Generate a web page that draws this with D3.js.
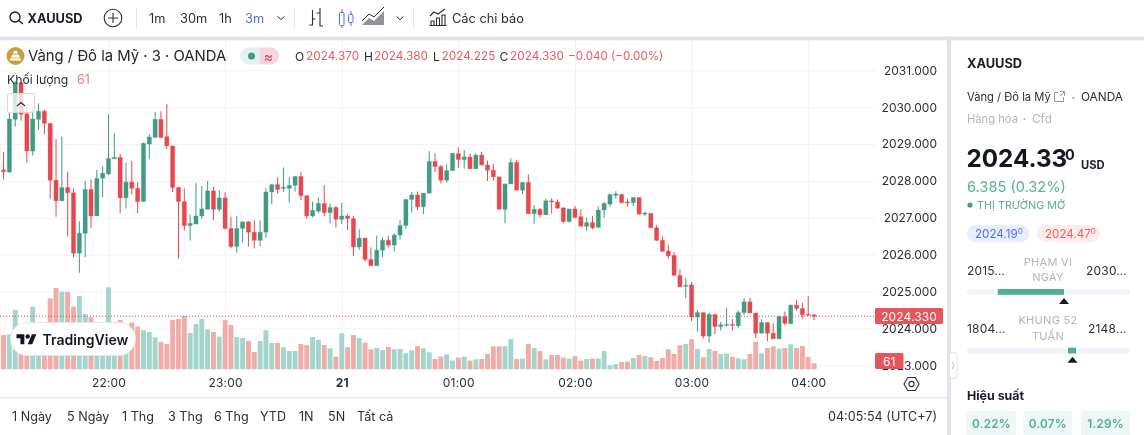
<!DOCTYPE html>
<html><head><meta charset="utf-8">
<script src="https://cdn.jsdelivr.net/npm/d3@7/dist/d3.min.js"></script>
<style>
html,body{margin:0;padding:0;background:#fff;overflow:hidden}
svg{display:block;filter:blur(.35px)}
text{font-family:Inter,"Noto Sans",sans-serif;fill:#2a2e39}
</style></head><body><div id="chart"></div>
<script>
// ---- data -------------------------------------------------------------
// bars are numbered from 22:00 = 0, one bar every 3 minutes
const firstBar = -19;
const opens = [2029.00,2028.30,2028.24,2029.67,2030.66,2029.82,2028.81,2029.67,2029.89,2029.56,2028.02,2027.46,2027.82,2027.68,2026.04,2026.58,2027.77,2027.05,2028.07,
2028.19,2028.60,2028.64,2027.54,2027.97,2027.80,2027.44,2029.00,2029.18,2029.67,2029.20,2028.95,2027.82,2027.44,2026.79,2026.83,2027.05,2027.23,2027.73,2027.23,
2027.54,2026.71,2026.22,2026.71,2026.89,2026.61,2026.39,2026.61,2027.70,2027.90,2027.80,2027.80,2027.88,2028.12,2027.60,2027.05,2027.18,2027.39,2027.14,2027.28,
2026.96,2027.05,2026.98,2026.21,2026.45,2025.87,2025.70,2026.12,2026.39,2026.26,2026.53,2026.79,2027.50,2027.62,2027.30,2027.67,2028.53,2028.39,2028.02,2028.28,
2028.74,2028.58,2028.65,2028.33,2028.70,2028.43,2028.29,2028.11,2027.23,2027.92,2028.50,2027.75,2027.96,2027.11,2027.23,2027.08,2027.46,2027.43,2027.27,2026.90,
2027.24,2027.03,2026.77,2026.87,2026.74,2027.21,2027.37,2027.61,2027.63,2027.43,2027.41,2027.55,2027.10,2027.12,2026.73,2026.39,2026.10,2025.98,2025.44,2025.14,
2025.18,2024.31,2024.43,2023.79,2024.38,2024.05,2024.09,2024.11,2024.07,2024.43,2024.72,2024.42,2023.87,2024.16,2023.87,2023.72,2024.32,2024.13,2024.63,2024.54,2024.38,2024.37];
const highs = [2029.26,2028.78,2029.85,2030.71,2030.69,2030.06,2030.01,2030.10,2029.94,2029.56,2029.13,2029.20,2028.25,2027.79,2026.91,2028.00,2028.04,2028.30,2028.40,
2029.81,2029.29,2028.73,2028.50,2028.54,2027.96,2029.04,2029.27,2029.87,2029.89,2030.09,2028.95,2027.84,2027.80,2027.09,2027.95,2027.86,2028.00,2027.84,2027.75,
2027.69,2027.03,2027.05,2026.91,2026.91,2026.94,2026.94,2027.80,2027.92,2028.10,2028.37,2028.10,2028.13,2028.25,2027.60,2027.44,2027.55,2027.89,2027.39,2027.32,
2027.41,2027.09,2027.05,2026.69,2026.45,2026.20,2026.52,2026.47,2026.51,2026.58,2026.94,2027.50,2027.70,2027.71,2027.67,2028.81,2028.75,2028.43,2028.45,2028.75,
2028.91,2028.84,2028.75,2028.75,2028.79,2028.55,2028.46,2028.11,2027.92,2028.61,2028.57,2027.96,2028.18,2027.34,2027.26,2027.53,2027.53,2027.50,2027.28,2027.24,
2027.32,2027.23,2027.01,2027.05,2027.30,2027.43,2027.66,2027.72,2027.66,2027.52,2027.55,2027.55,2027.17,2027.12,2026.80,2026.49,2026.28,2026.07,2025.60,2025.37,
2025.26,2024.50,2024.43,2024.43,2024.38,2024.18,2024.55,2024.25,2024.48,2024.82,2024.83,2024.42,2024.25,2024.16,2024.14,2024.34,2024.46,2024.65,2024.77,2024.70,2024.88,2024.38];
const lows = [2028.30,2028.04,2028.22,2029.47,2029.63,2028.50,2028.69,2029.38,2029.26,2027.51,2027.03,2027.46,2026.49,2025.93,2025.51,2025.93,2026.73,2027.05,2027.55,
2028.16,2028.59,2027.12,2027.25,2027.63,2027.12,2027.44,2028.60,2029.18,2029.15,2028.87,2027.70,2025.89,2026.65,2026.38,2026.83,2026.96,2027.23,2026.94,2027.17,
2026.69,2026.18,2026.05,2026.33,2026.22,2026.17,2026.23,2026.46,2027.37,2027.66,2027.70,2027.41,2027.71,2027.48,2026.97,2027.01,2027.12,2027.05,2026.85,2026.74,
2026.83,2026.67,2025.96,2026.13,2025.81,2025.70,2025.70,2025.93,2026.20,2026.09,2026.41,2026.71,2027.14,2027.21,2027.10,2027.65,2028.24,2027.93,2027.95,2028.28,
2028.35,2028.33,2028.33,2028.33,2028.43,2028.00,2028.01,2027.23,2026.85,2027.92,2027.75,2027.64,2027.11,2026.84,2027.01,2027.08,2027.12,2027.25,2026.85,2026.87,
2026.98,2026.77,2026.65,2026.69,2026.74,2026.99,2027.30,2027.52,2027.39,2027.30,2027.32,2027.08,2027.05,2026.73,2026.37,2026.09,2025.89,2025.43,2025.11,2024.82,
2024.19,2023.92,2023.72,2023.61,2023.85,2023.94,2024.05,2023.94,2024.01,2024.37,2024.42,2023.74,2023.87,2023.65,2023.72,2023.72,2024.08,2024.12,2024.48,2024.26,2024.36,2024.225];
const closes = [2028.40,2028.25,2029.68,2030.66,2029.81,2028.81,2029.68,2029.89,2029.56,2028.02,2027.46,2027.82,2027.68,2026.04,2026.58,2027.77,2027.05,2028.07,2028.21,
2028.61,2028.64,2027.54,2027.97,2027.80,2027.44,2029.02,2029.19,2029.67,2029.18,2028.95,2027.82,2027.44,2026.79,2026.85,2027.05,2027.24,2027.73,2027.23,2027.54,
2026.71,2026.22,2026.71,2026.89,2026.61,2026.39,2026.61,2027.70,2027.90,2027.77,2027.83,2027.88,2028.12,2027.60,2027.05,2027.20,2027.39,2027.14,2027.28,2026.96,
2027.05,2026.98,2026.21,2026.45,2025.87,2025.70,2026.12,2026.39,2026.26,2026.53,2026.79,2027.50,2027.62,2027.30,2027.67,2028.53,2028.39,2028.02,2028.28,2028.75,
2028.58,2028.65,2028.33,2028.70,2028.43,2028.29,2028.11,2027.23,2027.92,2028.50,2027.75,2027.96,2027.11,2027.23,2027.08,2027.46,2027.43,2027.26,2026.90,2027.24,
2027.01,2026.77,2026.87,2026.73,2027.21,2027.39,2027.63,2027.65,2027.41,2027.41,2027.55,2027.10,2027.13,2026.73,2026.39,2026.09,2025.97,2025.44,2025.13,2025.17,
2024.31,2024.43,2023.79,2024.38,2024.05,2024.10,2024.11,2024.09,2024.43,2024.72,2024.42,2023.87,2024.16,2023.87,2023.72,2024.32,2024.14,2024.63,2024.54,2024.37,2024.36,2024.33];
const volumes = [627,343,350,593,330,400,627,380,420,710,813,777,773,627,733,553,520,450,420,
820,400,493,440,467,427,390,373,320,273,253,493,503,533,363,453,503,400,373,327,
493,443,323,313,283,173,283,390,263,263,220,183,183,253,240,323,296,243,210,127,
360,220,343,313,266,200,213,193,223,200,203,160,190,233,210,170,103,127,150,87,
117,127,87,100,103,153,230,230,230,303,103,107,253,213,183,100,143,143,117,107,
130,87,103,107,107,183,40,53,73,77,113,143,133,120,83,113,200,153,240,253,
300,203,120,203,183,153,157,123,110,100,153,276,160,213,230,207,213,250,213,233,123,61];
const priceTicks = [2031,2030,2029,2028,2027,2026,2025,2024,2023];
const timeTicks = [0,20,40,60,80,100,120];
const timeLabels = ["22:00","23:00","21","01:00","02:00","03:00","04:00"];
const lastPrice = 2024.33, lastVolume = 61;
const rangeButtons = ["1 Ngày","5 Ngày","1 Thg","3 Thg","6 Thg","YTD","1N","5N","Tất cả"];
const rangeX = [12,67,122,168,214,260,299,328,357];
const intervals = ["1m","30m","1h","3m"], intervalX = [149,180,219,245];
const perf = ["0.22%","0.07%","1.29%"];

// ---- colours ----------------------------------------------------------
const UP="#419a84", DOWN="#e5494f", UPV="#a4d5cd", DOWNV="#f0aca7", GRID="#f1f3f8", BAND="#e0e3eb", INK="#2a2e39", MUTE="#b2b5be", SOFTG="#5bae98";

const svg = d3.select("#chart").append("svg").attr("width",1144).attr("height",435);
const txt = (g,x,y,s,o={}) => {
  const t=g.append("text").attr("x",x).attr("y",y).attr("dominant-baseline","central").text(s);
  t.attr("font-size",o.size||13).attr("font-weight",o.w||400).attr("text-anchor",o.a||"start");
  t.style("fill",o.c||INK); if(o.ls) t.attr("letter-spacing",o.ls);
  return t;
};

// ---- scales -----------------------------------------------------------
const y = d3.scaleLinear().domain([2023,2031]).range([365.3,70.3]);
const x = d3.scaleLinear().domain([0,100]).range([108.5,691.6]);
const yV = d3.scaleLinear().domain([0,820]).range([369.3,287.3]);
const bars = d3.range(opens.length).map(k=>({i:k+firstBar,o:opens[k],h:highs[k],l:lows[k],c:closes[k],v:volumes[k]}));

// ---- chrome bands -----------------------------------------------------
svg.append("rect").attr("x",0).attr("y",36.5).attr("width",1144).attr("height",3.8).attr("fill",BAND);
svg.append("rect").attr("x",947).attr("y",36.5).attr("width",4).attr("height",399).attr("fill",BAND);
svg.append("rect").attr("x",0).attr("y",397).attr("width",947).attr("height",1.4).attr("fill",BAND);

// ---- grid via axes ----------------------------------------------------
const pane = svg.append("g");
const gridH = pane.append("g").call(d3.axisRight(y).tickValues(priceTicks).tickSize(875).tickFormat(""));
gridH.select(".domain").remove(); gridH.selectAll("line").attr("stroke",GRID);
const gridV = pane.append("g").attr("transform","translate(0,371)").call(d3.axisTop(x).tickValues(timeTicks).tickSize(331).tickFormat(""));
gridV.select(".domain").remove(); gridV.selectAll("line").attr("stroke",GRID);

// ---- marks ------------------------------------------------------------
const plot = pane.append("g");
plot.selectAll("rect.v").data(bars).join("rect").attr("class","v")
  .attr("x",d=>x(d.i)-2.45).attr("width",4.9).attr("y",d=>yV(d.v)).attr("height",d=>yV(0)-yV(d.v))
  .attr("fill",d=>d.c>=d.o?UPV:DOWNV);
plot.selectAll("line.w").data(bars).join("line").attr("class","w")
  .attr("x1",d=>x(d.i)).attr("x2",d=>x(d.i)).attr("y1",d=>y(d.h)).attr("y2",d=>y(d.l))
  .attr("stroke",d=>d.c>=d.o?UP:DOWN).attr("stroke-width",1);
plot.selectAll("rect.b").data(bars).join("rect").attr("class","b")
  .attr("x",d=>x(d.i)-2.1).attr("width",4.2)
  .attr("y",d=>y(Math.max(d.o,d.c))).attr("height",d=>Math.max(1,Math.abs(y(d.o)-y(d.c))))
  .attr("fill",d=>d.c>=d.o?UP:DOWN).attr("stroke",d=>d.c>=d.o?UP:DOWN).attr("stroke-opacity",.3).attr("stroke-width",1);

// watermark
const wm = svg.append("g");
wm.append("rect").attr("x",10.5).attr("y",322.5).attr("width",125).attr("height",33).attr("rx",16.5).attr("fill","#fff").attr("stroke","#e4e6ee");
wm.append("g").attr("transform","translate(16.5,332) scale(.56)").call(g=>{
  g.append("path").attr("d","M14 22H7V11H0V4h14v18zM28 22h-8l7.5-18h8L28 22z").attr("fill","#131722");
  g.append("circle").attr("cx",20).attr("cy",8).attr("r",4).attr("fill","#131722");
});
txt(wm,42.5,339.5,"TradingView",{size:14.1,w:600,c:"#131722"});

// price line
svg.append("line").attr("x1",0).attr("x2",875).attr("y1",y(lastPrice)).attr("y2",y(lastPrice))
  .attr("stroke",DOWN).attr("stroke-width",1).attr("stroke-dasharray","1 2");

// ---- axes -------------------------------------------------------------
const axY = svg.append("g").attr("transform","translate(937,0)").call(d3.axisRight(y).tickValues(priceTicks).tickSize(0).tickPadding(0).tickFormat(d3.format(".3f")));
axY.select(".domain").remove();
axY.selectAll("text").attr("text-anchor","end").attr("font-size",12).attr("font-family","Inter").style("fill",INK);
const axX = svg.append("g").attr("transform","translate(0,378)").call(d3.axisBottom(x).tickValues(timeTicks).tickSize(0).tickPadding(0).tickFormat((d,k)=>timeLabels[k]));
axX.select(".domain").remove();
axX.selectAll("text").attr("font-size",12).attr("font-family","Inter").attr("letter-spacing",.2).style("fill",INK)
  .attr("font-weight",(d,k)=>timeLabels[k]==="21"?700:400);

// tags
const tag=(xx,yy,w,h,s)=>{svg.append("rect").attr("x",xx).attr("y",yy).attr("width",w).attr("height",h).attr("rx",1.5).attr("fill","#e5555a");
  txt(svg,xx+w/2,yy+h/2+.3,s,{size:12,c:"#fff",a:"middle",ls:.1});};
tag(875,308,68,16,d3.format(".3f")(lastPrice));
tag(875,353,28.5,16,String(lastVolume));

// settings hexagon
const hex=svg.append("g").attr("transform","translate(911.5,384)");
hex.append("path").attr("d",d3.line()(d3.range(6).map(k=>[7.5*Math.cos(k*Math.PI/3),7.5*Math.sin(k*Math.PI/3)]))+"Z").attr("fill","none").attr("stroke",INK).attr("stroke-width",1.1);
hex.append("circle").attr("r",2.6).attr("fill","none").attr("stroke",INK).attr("stroke-width",1.1);

// ---- legend -----------------------------------------------------------
const lg = svg.append("g");
lg.append("circle").attr("cx",15.5).attr("cy",56).attr("r",9).attr("fill","#c8a13c");
lg.append("path").attr("d","M11 57.5h9l-1.5-3h-6zM9.5 60.5h12l-1-2.2h-10zM13 53.5h5l-1-2.5h-3z").attr("fill","#fff");
txt(lg,28,56,"Vàng / Đô la Mỹ · 3 · OANDA",{size:14.85,c:"#222631"});
lg.append("path").attr("d","M248.5 47.5H259.5V64.5H248.5A8.5 8.5 0 0 1 248.5 47.5Z").attr("fill","#e4f2ef");
lg.append("path").attr("d","M259.5 47.5H270.5A8.5 8.5 0 0 1 270.5 64.5H259.5Z").attr("fill","#f6d5de");
lg.append("circle").attr("cx",251.5).attr("cy",56).attr("r",3.5).attr("fill",UP);
txt(lg,268.5,56,"≈",{size:14,c:"#d2385f",a:"middle"});
const red="#ea5a60";
[["O",295,"2024.370",306],["H",364,"2024.380",374],["L",433,"2024.225",441.5],["C",499.5,"2024.330",510]].forEach(r=>{
  txt(lg,r[1],56,r[0],{size:12});txt(lg,r[3],56,r[2],{size:11.8,c:red});
});
txt(lg,568,56,"−0.040 (−0.00%)",{size:11.6,c:red});
txt(lg,7,79,"Khối lượng",{size:12.2});
txt(lg,77,79,"61",{size:12.4,c:"#ec7a7e"});
lg.append("rect").attr("x",7.5).attr("y",93.5).attr("width",27).attr("height",19).attr("rx",2).attr("fill","rgba(255,255,255,.78)").attr("stroke","#d6d9e0");
lg.append("path").attr("d","M17 106l4-3.5 4 3.5").attr("fill","none").attr("stroke",INK).attr("stroke-width",1.2);

// ---- toolbar ----------------------------------------------------------
const tb = svg.append("g");
tb.append("circle").attr("cx",15).attr("cy",17).attr("r",5).attr("fill","none").attr("stroke","#131722").attr("stroke-width",1.3);
tb.append("line").attr("x1",18.5).attr("y1",20.5).attr("x2",23).attr("y2",24).attr("stroke","#131722").attr("stroke-width",1.3);
txt(tb,27.5,18,"XAUUSD",{size:12.8,w:700,c:"#1a1d26"});
tb.append("circle").attr("cx",113).attr("cy",18).attr("r",8.8).attr("fill","none").attr("stroke","#333").attr("stroke-width",1.1);
tb.append("path").attr("d","M113 13v10M108 18h10").attr("stroke","#333").attr("stroke-width",1.1);
[136.5,294.5,413.5].forEach(v=>tb.append("line").attr("x1",v).attr("x2",v).attr("y1",8).attr("y2",28).attr("stroke","#e3e5ea"));
intervals.forEach((s,k)=>txt(tb,intervalX[k],18,s,{size:12.8,c:s==="3m"?"#4a72f2":INK}));
const chev=c=>tb.append("path").attr("d",`M${c-3.5} 16.5l3.5 3 3.5-3`).attr("fill","none").attr("stroke",INK);
chev(281);chev(400);
tb.append("path").attr("d","M309.5 25h3v-15M312.5 19h3M320 8v18h3M316.5 13h3.5").attr("fill","none").attr("stroke",INK).attr("stroke-width",1.1);
tb.append("g").attr("stroke","#4a72f2").attr("fill","#fff").call(g=>{
  g.append("rect").attr("x",339.5).attr("y",12.5).attr("width",4.5).attr("height",13).attr("rx",1);
  g.append("path").attr("d","M342 9v3M342 25v3");
  g.append("rect").attr("x",348.5).attr("y",14.5).attr("width",4.5).attr("height",8).attr("rx",1);
  g.append("path").attr("d","M351 11v3M351 23v3");
});
tb.append("path").attr("d","M362 25l7-7 5 3 10-10v14h-22z").attr("fill","#8f929c");
tb.append("path").attr("d","M362 21l7-7 5 3 10-10").attr("fill","none").attr("stroke",INK);
tb.append("path").attr("d","M429.5 25.5h17M431 25v-4h3v4M436.5 25v-7h3v7M442 25v-10h3v10M430 16l4-4 4 2 7-5").attr("fill","none").attr("stroke",INK).attr("stroke-width",1.1);
txt(tb,452,18,"Các chỉ báo",{size:12.8});

// ---- bottom bar -------------------------------------------------------
rangeButtons.forEach((s,k)=>txt(svg,rangeX[k],416,s,{size:12.6}));
txt(svg,937,416,"04:05:54 (UTC+7)",{size:12.6,a:"end"});

// ---- sidebar ----------------------------------------------------------
const sb = svg.append("g");
txt(sb,967,63,"XAUUSD",{size:12.8,w:700,c:"#1a1d26"});
txt(sb,967,97,"Vàng / Đô la Mỹ",{size:11.2});
sb.append("path").attr("d","M1063.5 97v4.5h-9v-9h4M1060 91.5h4.5v4.5M1064.5 91.5l-4.5 4.5").attr("fill","none").attr("stroke","#9598a1");
sb.append("circle").attr("cx",1073.5).attr("cy",98).attr("r",1.1).attr("fill","#9598a1");
txt(sb,1081,97,"OANDA",{size:11.8});
txt(sb,967,118.5,"Hàng hóa",{size:11.2,c:MUTE});
sb.append("circle").attr("cx",1024.5).attr("cy",119).attr("r",1.1).attr("fill",MUTE);
txt(sb,1032,118.5,"Cfd",{size:11.8,c:MUTE});
txt(sb,966.5,158,"2024.33",{size:24.2,w:700,c:"#131722"});
txt(sb,1065,154,"0",{size:14.5,w:700,c:"#131722"});
txt(sb,1081,165,"USD",{size:11.2,w:700,c:"#1a1d26"});
txt(sb,967,186.5,"6.385 (0.32%)",{size:14.6,c:SOFTG});
sb.append("circle").attr("cx",970).attr("cy",205).attr("r",2.6).attr("fill",UP);
txt(sb,977,205,"THỊ TRƯỜNG MỞ",{size:10.8,c:SOFTG});
const pill=(xx,w,bg,c,s)=>{sb.append("rect").attr("x",xx).attr("y",225).attr("width",w).attr("height",17).attr("rx",8.5).attr("fill",bg);
  const t=txt(sb,xx+8,234,s,{size:11.6,c});t.append("tspan").attr("font-size",8).attr("dy",-3).text("0");};
pill(967,62.5,"#e8edfd","#4f71ee","2024.19");
pill(1037,63,"#fdecec","#ef5b62","2024.47");
const muted={size:11,c:MUTE,a:"middle",ls:.3};
txt(sb,967,270,"2015…",{size:12,ls:.2});txt(sb,1048,261.5,"PHẠM VI",muted);txt(sb,1048,277,"NGÀY",muted);txt(sb,1086,270,"2030…",{size:12,ls:.2});
txt(sb,967,328,"1804…",{size:12,ls:.2});txt(sb,1048,320,"KHUNG 52",muted);txt(sb,1048,335.5,"TUẦN",muted);txt(sb,1088,328,"2148…",{size:12,ls:.2});
const rbar=(yy,a,b,tx)=>{
  sb.append("rect").attr("x",967).attr("y",yy).attr("width",163).attr("height",5.8).attr("rx",2.9).attr("fill","#f0f3fa");
  sb.append("rect").attr("x",a-2).attr("y",yy).attr("width",b-a+4).attr("height",5.8).attr("fill","#fff");
  sb.append("rect").attr("x",a).attr("y",yy).attr("width",b-a).attr("height",5.8).attr("fill","#52ad97");
  sb.append("path").attr("d",`M${tx-5} ${yy+15}L${tx} ${yy+9}L${tx+5} ${yy+15}Z`).attr("fill","#131722");
};
rbar(289,997.7,1064,1064);
rbar(347.7,1068,1076,1072.5);
txt(sb,967,395,"Hiệu suất",{size:12.4,w:700,c:"#1a1d26"});
[967,1023.3,1081].forEach((xx,k)=>{
  sb.append("rect").attr("x",xx).attr("y",411).attr("width",49).attr("height",28).attr("rx",3).attr("fill","#edf7f5");
  txt(sb,xx+24.5,423.5,perf[k],{size:11.8,w:600,c:"#52ad97",a:"middle",ls:.2});
});
// collapse handle
sb.append("rect").attr("x",949.5).attr("y",352.5).attr("width",7.5).attr("height",26).attr("rx",2.5).attr("fill","#fff").attr("stroke","#e0e3eb");
sb.append("path").attr("d","M952 362l2 3.5-2 3.5").attr("fill","none").attr("stroke","#b2b5be");
</script></body></html>
